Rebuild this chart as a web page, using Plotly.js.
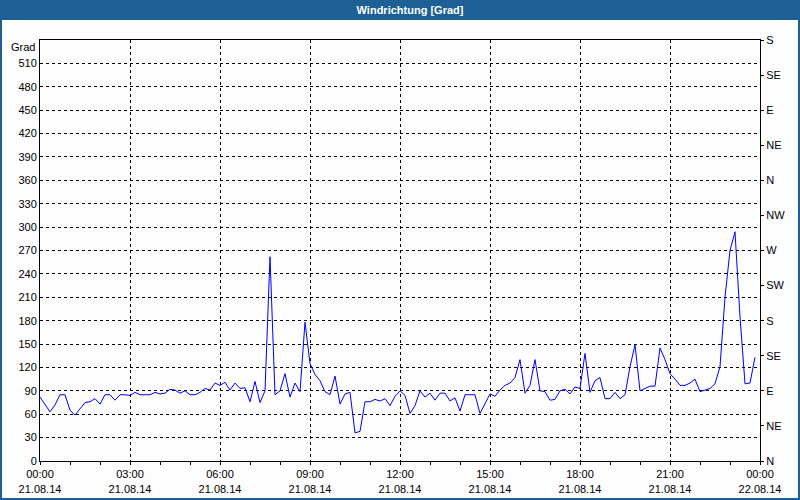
<!DOCTYPE html>
<html>
<head>
<meta charset="utf-8">
<script src="https://cdn.plot.ly/plotly-3.0.1.min.js"></script>
<style>
  html, body { margin: 0; padding: 0; background: #fcfdfc; }
  #chart { width: 800px; height: 500px; }
</style>
</head>
<body>
<div id="chart"></div>
<script>
// ---- data ----
var chartTitle = 'Windrichtung [Grad]';
var yUnit = 'Grad';
var startTime = '2014-08-21 00:00';
var stepMinutes = 10;
// wind direction in degrees, one value every 10 minutes from 00:00 to 23:50
var windDirection = [
  82, 72, 63, 72, 85, 85, 65, 59, 67, 75,
  76, 80, 73, 85, 85, 78, 85, 85, 84, 88,
  85, 85, 85, 88, 86, 87, 92, 91, 87, 90,
  85, 85, 88, 93, 91, 100, 97, 101, 91, 100,
  93, 94, 76, 102, 75, 90, 262, 85, 90, 112,
  82, 100, 89, 178, 125, 111, 103, 89, 85, 109,
  73, 86, 88, 36, 38, 76, 76, 79, 77, 80,
  71, 83, 90, 84, 61, 71, 90, 82, 87, 78,
  87, 87, 77, 81, 64, 85, 85, 85, 61, 74,
  86, 83, 91, 97, 100, 107, 130, 87, 97, 130,
  90, 89, 78, 79, 90, 92, 86, 95, 93, 138,
  88, 103, 107, 80, 80, 88, 80, 85, 121, 149,
  90, 93, 96, 96, 145, 130, 112, 105, 97, 97,
  100, 105, 89, 91, 93, 99, 121, 210, 270, 294,
  185, 99, 100, 133
];
var xTickVals = [
  '2014-08-21 00:00', '2014-08-21 03:00', '2014-08-21 06:00', '2014-08-21 09:00',
  '2014-08-21 12:00', '2014-08-21 15:00', '2014-08-21 18:00', '2014-08-21 21:00',
  '2014-08-22 00:00'
];
var xTickText = [
  '00:00<br>21.08.14', '03:00<br>21.08.14', '06:00<br>21.08.14', '09:00<br>21.08.14',
  '12:00<br>21.08.14', '15:00<br>21.08.14', '18:00<br>21.08.14', '21:00<br>21.08.14',
  '00:00<br>22.08.14'
];
var yTickVals = [0, 30, 60, 90, 120, 150, 180, 210, 240, 270, 300, 330, 360, 390, 420, 450, 480, 510];
var compassVals = [0, 45, 90, 135, 180, 225, 270, 315, 360, 405, 450, 495, 540];
var compassText = ['N', 'NE', 'E', 'SE', 'S', 'SW', 'W', 'NW', 'N', 'NE', 'E', 'SE', 'S'];
var xRange = ['2014-08-21 00:00', '2014-08-22 00:00'];
var yRange = [0, 540];

// ---- timestamps for the samples ----
function pad(n) { return (n < 10 ? '0' : '') + n; }
var t0 = Date.UTC(2014, 7, 21, 0, 0);
var times = windDirection.map(function (v, i) {
  var d = new Date(t0 + i * stepMinutes * 60000);
  return d.getUTCFullYear() + '-' + pad(d.getUTCMonth() + 1) + '-' + pad(d.getUTCDate()) +
         ' ' + pad(d.getUTCHours()) + ':' + pad(d.getUTCMinutes());
});

var FONT = 'Liberation Sans, Arial, sans-serif';
var BLUE = '#1d6096';

var trace = {
  x: times,
  y: windDirection,
  type: 'scatter',
  mode: 'lines',
  line: { color: '#0000ff', width: 1 },
  hoverinfo: 'x+y'
};
var dummyRight = {
  x: xRange, y: yRange, yaxis: 'y2', type: 'scatter', mode: 'lines',
  line: { width: 0 }, hoverinfo: 'skip', showlegend: false
};

// plot area: x 40..760, y 40..461
var W = 800, H = 500, L = 40, R = 40, T = 40, B = 39;
var PW = W - L - R, PH = H - T - B;
function px(xp) { return (xp - L) / PW; }
function py(yp) { return (H - B - yp) / PH; }

var layout = {
  width: W, height: H,
  margin: { l: L, r: R, t: T, b: B, pad: 0 },
  paper_bgcolor: '#fcfdfc',
  plot_bgcolor: '#fcfdfc',
  showlegend: false,
  font: { family: FONT, size: 11, color: '#000000' },
  title: {
    text: chartTitle,
    x: 410 / W, xref: 'container', xanchor: 'center',
    y: 1 - 10 / H, yref: 'container', yanchor: 'middle',
    font: { family: FONT, size: 11, color: '#ffffff', weight: 'bold' }
  },
  xaxis: {
    type: 'date',
    range: xRange,
    tickmode: 'array',
    tickvals: xTickVals,
    ticktext: xTickText,
    ticks: 'outside', ticklen: 3, tickcolor: '#000', tickwidth: 1,
    minor: { tickmode: 'linear', tick0: '2014-08-21 00:00', dtick: 3600000, ticks: 'outside', ticklen: 3, tickcolor: '#000', showgrid: false },
    showline: true, linecolor: '#000', linewidth: 1, mirror: true,
    showgrid: true, gridcolor: '#000', gridwidth: 1, griddash: '3px,3px',
    zeroline: false,
    tickfont: { family: FONT, size: 11, color: '#000' },
    fixedrange: true
  },
  yaxis: {
    range: yRange,
    tickmode: 'array',
    tickvals: yTickVals,
    ticks: '', 
    showline: true, linecolor: '#000', linewidth: 1, mirror: true,
    showgrid: true, gridcolor: '#000', gridwidth: 1, griddash: '3px,3px',
    zeroline: false,
    tickfont: { family: FONT, size: 11, color: '#000' },
    fixedrange: true
  },
  yaxis2: {
    overlaying: 'y', side: 'right',
    range: yRange,
    tickmode: 'array',
    tickvals: compassVals,
    ticktext: compassText,
    ticks: 'outside', ticklen: 3, tickcolor: '#000',
    showline: true, linecolor: '#000', linewidth: 1,
    showgrid: false, zeroline: false,
    tickfont: { family: FONT, size: 11, color: '#000' },
    fixedrange: true
  },
  annotations: [{
    text: yUnit, xref: 'paper', yref: 'paper',
    x: 0, y: py(47), xanchor: 'right', yanchor: 'middle', xshift: -3,
    showarrow: false, font: { family: FONT, size: 11, color: '#000' }
  }],
  shapes: [
    { type: 'rect', xref: 'paper', yref: 'paper', layer: 'below',
      x0: px(0), x1: px(W), y0: py(0), y1: py(20),
      fillcolor: BLUE, line: { width: 0 } },
    { type: 'rect', xref: 'paper', yref: 'paper', layer: 'above',
      x0: px(1), x1: px(W - 1), y0: py(1), y1: py(H - 1),
      fillcolor: 'rgba(0,0,0,0)', line: { color: BLUE, width: 2 } }
  ]
};

Plotly.newPlot('chart', [trace, dummyRight], layout, { displayModeBar: false, staticPlot: true });
</script>
</body>
</html>
